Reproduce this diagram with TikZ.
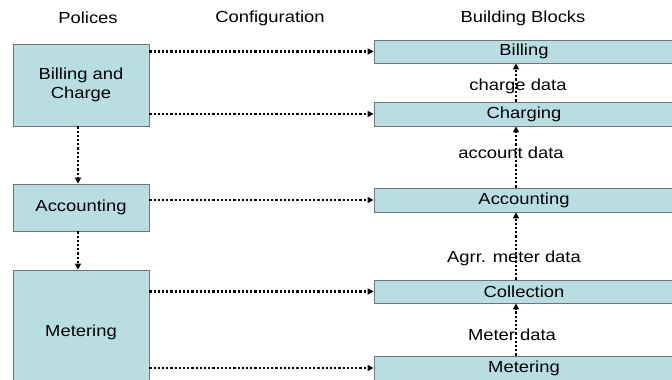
\documentclass[tikz,border=0pt]{standalone}
\usepackage{fontspec}
\setmainfont{Liberation Sans}[FakeStretch=1.15]
\usetikzlibrary{arrows.meta}
\definecolor{boxcyan}{RGB}{184,222,228}
\tikzset{
	block/.style={draw=black!55, line width=0.8pt, fill=boxcyan, inner sep=0pt, font=\fontsize{16}{19}\selectfont},
	flow/.style={line width=2.2pt, dash pattern=on 2.2pt off 2pt, -{Triangle[length=6pt,width=6pt]}},
	lbl/.style={font=\fontsize{16}{19}\selectfont, inner sep=0pt}
}

\begin{document}
\begin{tikzpicture}[x=1pt, y=-1pt]
		%%%%% START %%%%%
		\useasboundingbox (0, 0) rectangle (672, 380);
		
		% headings
		\node[lbl] (hpol) at (88, 18) {Polices};
		\node[lbl] (hconf) at (270, 18) {Configuration};
		\node[lbl] (hbb) at (523, 18) {Building Blocks};
		
		% policies
		\node[block, minimum width=136, minimum height=82, align=center] (pbill) at (81, 85) {Billing and\\Charge};
		\node[block, minimum width=136, minimum height=47] (pacc) at (81, 207.5) {Accounting};
		\node[block, minimum width=136, minimum height=124] (pmet) at (81, 332) {Metering};
		
		% building blocks
		\node[block, minimum width=300, minimum height=23] (bbill) at (524, 51.5) {Billing};
		\node[block, minimum width=300, minimum height=24] (bchg) at (524, 114) {Charging};
		\node[block, minimum width=300, minimum height=24] (bacc) at (524, 200) {Accounting};
		\node[block, minimum width=300, minimum height=23] (bcol) at (524, 291.5) {Collection};
		\node[block, minimum width=300, minimum height=24] (bmet) at (524, 368) {Metering};
		
		% data labels
		\node[lbl] (lchg) at (518, 86) {charge data};
		\node[lbl] (lacc) at (511, 153) {account data};
		\node[lbl] (lagr) at (514, 258) {Agrr. meter data};
		\node[lbl] (lmet) at (512, 335) {Meter data};
		
		% policy chain
		\draw[flow] ([xshift=-3]pbill.south) -- ([xshift=-3]pacc.north);
		\draw[flow] ([xshift=-3]pacc.south) -- ([xshift=-3]pmet.north);
		
		% configuration
		\draw[flow] (pbill.east |- bbill.west) -- (bbill.west);
		\draw[flow] (pbill.east |- bchg.west) -- (bchg.west);
		\draw[flow] (pacc.east |- bacc.west) -- (bacc.west);
		\draw[flow] (pmet.east |- bcol.west) -- (bcol.west);
		\draw[flow] (pmet.east |- bmet.west) -- (bmet.west);
		
		% data flow
		\draw[flow] ([xshift=-8]bchg.north) -- ([xshift=-8]bbill.south);
		\draw[flow] ([xshift=-8]bacc.north) -- ([xshift=-8]bchg.south);
		\draw[flow] ([xshift=-8]bcol.north) -- ([xshift=-8]bacc.south);
		\draw[flow] ([xshift=-8]bmet.north) -- ([xshift=-8]bcol.south);
		
		%%%%% END %%%%%
	\end{tikzpicture}
\end{document}
